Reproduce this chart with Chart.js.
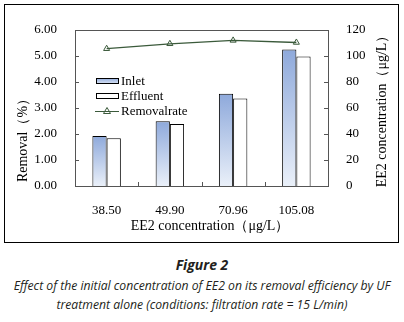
<!DOCTYPE html>
<html>
<head>
<meta charset="utf-8">
<script src="https://cdn.jsdelivr.net/npm/chart.js@4.4.1/dist/chart.umd.min.js"></script>
<style>
  html, body { margin: 0; padding: 0; background: #fff; }
  #wrap { position: relative; width: 404px; height: 322px; background: #fff; overflow: hidden; }
  #c { position: absolute; left: 0; top: 0; }
  .cap {
    position: absolute; left: 0; width: 404px; text-align: center;
    font-family: 'Open Sans', Lato, sans-serif; font-style: italic;
    font-size: 12.2px; color: #231f20; white-space: nowrap; line-height: 14px;
  }
  #probe { position: absolute; left: -500px; top: 0; font-family: 'Liberation Serif', serif; }
</style>
</head>
<body>
<div id="wrap">
  <canvas id="c" width="404" height="246"></canvas>
  <div class="cap" style="top:258px;font-weight:bold;font-size:14px">Figure 2</div>
  <div class="cap" style="top:279px">Effect of the initial concentration of EE2 on its removal efficiency by UF</div>
  <div class="cap" style="top:298px">treatment alone (conditions: filtration rate = 15 L/min)</div>
</div>
<span id="probe">Removal 0123456789</span>
<script>
const categories = ['38.50', '49.90', '70.96', '105.08'];
const inlet = [38.5, 49.9, 70.96, 105.08];
const effluent = [36.8, 47.6, 67.4, 99.6];
const removalRate = [5.28, 5.47, 5.6, 5.52];
const seriesNames = ['Inlet', 'Effluent', 'Removalrate'];

const serif = '"Liberation Serif", "Times New Roman", Times, serif';
const axisColor = '#555555';
const lineColor = '#3b5a3b';

function inletFill(ctx) {
  const chart = ctx.chart;
  const y1 = chart.scales.y1;
  if (!chart.chartArea || !y1 || ctx.raw == null) return '#a9bde3';
  const top = y1.getPixelForValue(ctx.raw);
  const bottom = y1.getPixelForValue(0);
  const g = chart.ctx.createLinearGradient(0, top, 0, bottom);
  g.addColorStop(0, '#8ea9db');
  g.addColorStop(1, '#eaf0f9');
  return g;
}

const decor = {
  id: 'decor',
  beforeDraw(chart) {
    const ctx = chart.ctx;
    ctx.save();
    ctx.fillStyle = '#fff';
    ctx.fillRect(0, 0, chart.width, chart.height);
    ctx.strokeStyle = '#000';
    ctx.lineWidth = 1;
    ctx.strokeRect(4.5, 4.5, 394, 238);
    ctx.restore();
  },
  afterDraw(chart) {
    const { ctx, chartArea: a, scales } = chart;
    ctx.save();
    ctx.strokeStyle = axisColor;
    ctx.lineWidth = 1;
    ctx.beginPath();
    // top border of plot
    ctx.moveTo(a.left, a.top + 0.5);
    ctx.lineTo(a.right, a.top + 0.5);
    // inward ticks
    scales.y.ticks.forEach(t => {
      const py = Math.round(scales.y.getPixelForValue(t.value)) + 0.5;
      ctx.moveTo(a.left, py); ctx.lineTo(a.left + 4, py);
    });
    scales.y1.ticks.forEach(t => {
      const py = Math.round(scales.y1.getPixelForValue(t.value)) + 0.5;
      ctx.moveTo(a.right - 4, py); ctx.lineTo(a.right, py);
    });
    for (let i = 0; i <= categories.length; i++) {
      const px = Math.round(scales.x.getPixelForValue(i - 0.5)) + 0.5;
      ctx.moveTo(px, a.bottom); ctx.lineTo(px, a.bottom - 4);
    }
    ctx.stroke();

    // axis titles
    ctx.fillStyle = '#000';
    ctx.font = '14px ' + serif;
    ctx.textAlign = 'center';
    ctx.textBaseline = 'middle';
    ctx.fillText('EE2 concentration（μg/L）', 210, 226);
    ctx.save();
    ctx.translate(23, 137);
    ctx.rotate(-Math.PI / 2);
    ctx.fillText('Removal（%）', 0, 0);
    ctx.restore();
    ctx.save();
    ctx.translate(382, (a.top + a.bottom) / 2);
    ctx.rotate(-Math.PI / 2);
    ctx.fillText('EE2 concentration（μg/L）', 0, 0);
    ctx.restore();

    // legend
    const lx = 96, lw = 22;
    const rows = [81, 96, 111];
    ctx.font = '13px ' + serif;
    ctx.textAlign = 'left';
    const g = ctx.createLinearGradient(0, rows[0] - 3, 0, rows[0] + 3);
    g.addColorStop(0, '#8ea9db');
    g.addColorStop(1, '#dfe7f5');
    ctx.fillStyle = g;
    ctx.fillRect(lx, rows[0] - 2.5, lw, 5);
    ctx.strokeStyle = '#000';
    ctx.strokeRect(lx + 0.5, rows[0] - 2.5, lw, 5);
    ctx.fillStyle = '#fff';
    ctx.fillRect(lx, rows[1] - 2.5, lw, 5);
    ctx.strokeRect(lx + 0.5, rows[1] - 2.5, lw, 5);
    ctx.strokeStyle = lineColor;
    ctx.beginPath();
    ctx.moveTo(lx - 1, rows[2] + 0.5);
    ctx.lineTo(lx + lw + 1, rows[2] + 0.5);
    ctx.stroke();
    ctx.beginPath();
    ctx.moveTo(lx + lw / 2 - 3.5, rows[2] + 2.5);
    ctx.lineTo(lx + lw / 2, rows[2] - 3.5);
    ctx.lineTo(lx + lw / 2 + 3.5, rows[2] + 2.5);
    ctx.closePath();
    ctx.stroke();
    ctx.fillStyle = '#000';
    seriesNames.forEach((n, i) => ctx.fillText(n, lx + lw + 3, rows[i] + 0.5));
    ctx.restore();
  }
};

function draw() {
  new Chart(document.getElementById('c'), {
    type: 'bar',
    data: {
      labels: categories,
      datasets: [
        {
          type: 'line',
          label: seriesNames[2],
          data: removalRate,
          yAxisID: 'y',
          borderColor: lineColor,
          borderWidth: 1.3,
          pointStyle: 'triangle',
          pointRadius: 3.5,
          pointBorderWidth: 1,
          pointBorderColor: lineColor,
          pointBackgroundColor: 'rgba(0,0,0,0)',
          order: 0,
        },
        {
          label: seriesNames[0],
          data: inlet,
          yAxisID: 'y1',
          backgroundColor: inletFill,
          borderColor: '#000',
          borderWidth: 1,
          borderSkipped: 'bottom',
          categoryPercentage: 0.45,
          barPercentage: 1,
          order: 1,
        },
        {
          label: seriesNames[1],
          data: effluent,
          yAxisID: 'y1',
          backgroundColor: '#ffffff',
          borderColor: '#000',
          borderWidth: 1,
          borderSkipped: 'bottom',
          categoryPercentage: 0.45,
          barPercentage: 1,
          order: 1,
        },
      ],
    },
    options: {
      responsive: false,
      animation: false,
      devicePixelRatio: 1,
      layout: { padding: { top: 30, left: 0, right: 0, bottom: 0 } },
      plugins: {
        legend: { display: false },
        tooltip: { enabled: false },
      },
      scales: {
        x: {
          grid: { display: false },
          border: { display: true, color: axisColor, width: 1 },
          ticks: { color: '#000', padding: 9, font: { family: serif, size: 13 } },
          afterFit: s => { s.height = 60; },
        },
        y: {
          position: 'left',
          min: 0,
          max: 6,
          grid: { display: false },
          border: { display: true, color: axisColor, width: 1 },
          ticks: {
            stepSize: 1,
            padding: 10,
            color: '#000',
            font: { family: serif, size: 13 },
            callback: v => v.toFixed(2),
          },
          afterFit: s => { s.width = 75; },
        },
        y1: {
          position: 'right',
          min: 0,
          max: 120,
          grid: { display: false },
          border: { display: true, color: axisColor, width: 1 },
          ticks: {
            stepSize: 20,
            padding: 10,
            color: '#000',
            font: { family: serif, size: 13 },
          },
          afterFit: s => { s.width = 76; },
        },
      },
    },
    plugins: [decor],
  });
}

if (document.fonts && document.fonts.load) {
  Promise.all([
    document.fonts.load('13px "Liberation Serif"'),
    document.fonts.load('14px "Noto Sans CJK SC"', '（）'),
  ]).then(draw, draw);
} else {
  draw();
}
</script>
</body>
</html>
